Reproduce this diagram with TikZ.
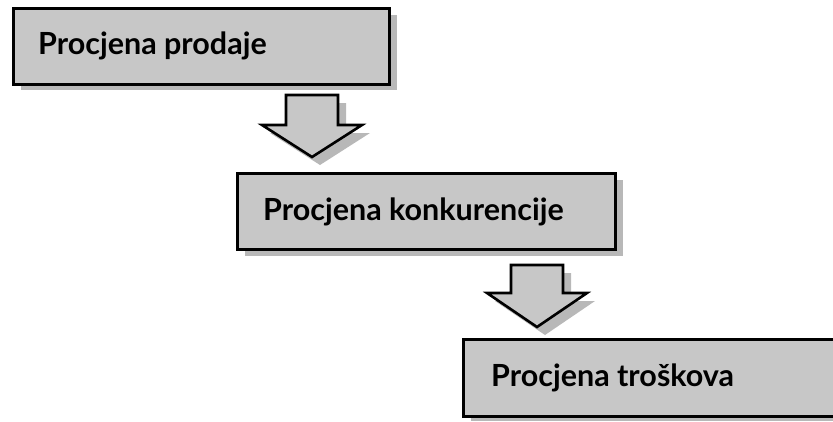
\documentclass[tikz,border=0pt]{standalone}
\usepackage{fontspec}
\setmainfont{Lato}
\begin{document}
\begin{tikzpicture}[x=1pt,y=-1pt,
  boxfill/.style={fill=black!22,draw=black,line width=2.6pt},
  shadowfill/.style={fill=black!28,draw=none},
  lbl/.style={anchor=base west,inner sep=0pt,font=\bfseries\fontsize{30.5}{34}\selectfont}]
\useasboundingbox (0,0) rectangle (833,421);
\begin{scope}
\clip (0,0) rectangle (833,421);
% shadows
\fill[shadowfill] (21,15) rectangle (397,90);
\fill[shadowfill] (245,180) rectangle (623,256);
\fill[shadowfill] (471,346) rectangle (850,421);
\fill[shadowfill] (294,103) -- (346,103) -- (346,133) -- (370,133) -- (320,165) -- (270,133) -- (294,133) -- cycle;
\fill[shadowfill] (519,273) -- (571,273) -- (571,301) -- (595,301) -- (545,335) -- (495,301) -- (519,301) -- cycle;
% boxes
\node[boxfill,rectangle,inner sep=0pt,minimum width=376pt,minimum height=76pt,anchor=north west] (b1) at (12,7) {};
\node[boxfill,rectangle,inner sep=0pt,minimum width=378pt,minimum height=76pt,anchor=north west] (b2) at (236,172) {};
\node[boxfill,rectangle,inner sep=0pt,minimum width=390pt,minimum height=77pt,anchor=north west] (b3) at (462,338) {};
% arrows
\draw[boxfill,line join=miter] (286,95) -- (338,95) -- (338,125) -- (362,125) -- (312,157) -- (262,125) -- (286,125) -- cycle;
\draw[boxfill,line join=miter] (511,265) -- (563,265) -- (563,293) -- (587,293) -- (537,327) -- (487,293) -- (511,293) -- cycle;
\end{scope}
\node[lbl] (t1) at (38,54) {Procjena prodaje};
\node[lbl] (t2) at (263,220) {Procjena konkurencije};
\node[lbl] (t3) at (491,386) {Procjena troškova};
\end{tikzpicture}
\end{document}
